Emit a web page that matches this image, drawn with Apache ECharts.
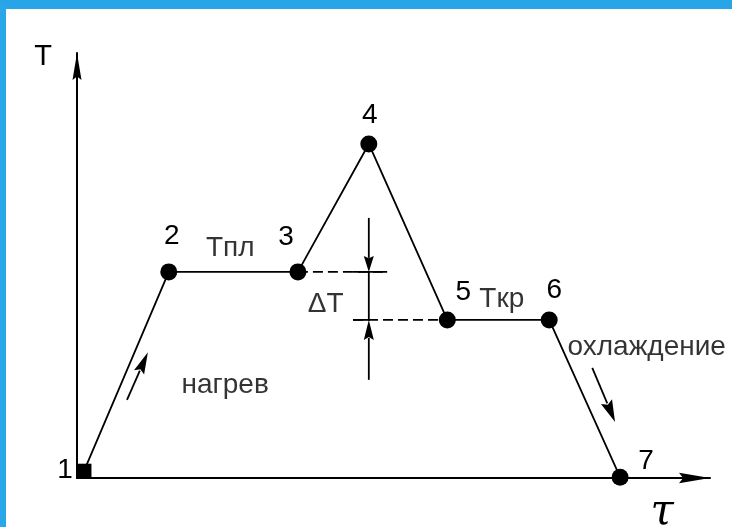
<!DOCTYPE html>
<html>
<head>
<meta charset="utf-8">
<script src="https://cdn.jsdelivr.net/npm/echarts@6/dist/echarts.min.js"></script>
<style>
  html, body { margin: 0; padding: 0; background: #ffffff; }
  #frame { position: absolute; left: 0; top: 0; width: 732px; height: 527px; box-sizing: border-box;
           border-top: 9px solid #27a5e7; border-left: 6px solid #2aa7e8; }
  #chart { position: absolute; left: 0; top: 0; width: 732px; height: 527px; }
</style>
</head>
<body>
<div id="frame"></div>
<div id="chart"></div>
<script>
// ---- data (arbitrary units: tau = time, T = temperature) ----
const pointNames = ['1', '2', '3', '4', '5', '6', '7'];
const tau = [1.1, 14.5, 34.9, 46.1, 58.5, 74.6, 85.8];
const temp = [1.6, 48.5, 48.5, 78.6, 37.2, 37.2, 0.2];

// text annotations
const noteTexts = ['Tпл', 'Tкр', '\u0394T', 'нагрев', 'охлаждение'];
const noteTau = [24.2, 67.1, 39.3, 23.4, 90.0];
const noteT = [54.1, 42.1, 40.9, 21.9, 30.8];

// ΔT dimension (between melting level and crystallisation level)
const dimTau = 46.1;
const dimTopT = 61.2;
const dimBottomT = 23.1;
const extTickStart = 43.6;
const extUpperEnd = 49.0;
const extLowerTickEnd = 46.3;

// direction arrows along heating / cooling branches
const heatArrow = [7.9, 18.4, 11.2, 29.6];
const coolArrow = [81.4, 25.9, 85.0, 13.2];

// ---- styles (not data) ----
const ink = '#000000';
const font = 'Liberation Sans, Arial, sans-serif';
const fs = 28;
const labelOffsets = [[-19, -1], [3, -36], [-12, -35], [1, -29], [16, -28], [5, -30], [26, -16]];

const chart = echarts.init(document.getElementById('chart'), null, { renderer: 'canvas' });

const mainData = tau.map((x, i) => ({
  value: [x, temp[i]],
  name: pointNames[i],
  symbol: i === 0 ? 'rect' : 'circle',
  symbolSize: i === 0 ? 15 : 17,
  label: { offset: labelOffsets[i] }
}));

const dashedSegs = [
  [tau[2], temp[2], extUpperEnd, temp[2]],
  [extTickStart, temp[4], tau[4], temp[4]]
];
const solidSegs = [
  [extTickStart, temp[2], extUpperEnd, temp[2]],
  [extTickStart, temp[4], extLowerTickEnd, temp[4]],
  [dimTau, temp[2], dimTau, temp[4]]
];
const arrowSegs = [
  [dimTau, dimTopT, dimTau, temp[2]],
  [dimTau, dimBottomT, dimTau, temp[4]],
  heatArrow,
  coolArrow
];
const arrowHeads = [[16, 10], [20, 10], [22, 11], [22, 12]];

function segRenderer(dashed) {
  return function (params, api) {
    const p1 = api.coord([api.value(0), api.value(1)]);
    const p2 = api.coord([api.value(2), api.value(3)]);
    return {
      type: 'line',
      shape: { x1: p1[0], y1: p1[1], x2: p2[0], y2: p2[1] },
      style: { stroke: ink, lineWidth: 1.8, lineDash: dashed ? [10, 5] : null }
    };
  };
}

function arrowRenderer(params, api) {
  const p1 = api.coord([api.value(0), api.value(1)]);
  const p2 = api.coord([api.value(2), api.value(3)]);
  const dx = p2[0] - p1[0], dy = p2[1] - p1[1];
  const len = Math.sqrt(dx * dx + dy * dy) || 1;
  const ux = dx / len, uy = dy / len;
  const h = arrowHeads[params.dataIndex];
  const hl = h[0], hw = h[1] / 2;
  const bx = p2[0] - ux * hl, by = p2[1] - uy * hl;
  const nx = bx + ux * hl * 0.15, ny = by + uy * hl * 0.15;
  return {
    type: 'group',
    children: [
      { type: 'line', shape: { x1: p1[0], y1: p1[1], x2: bx + ux * 2, y2: by + uy * 2 },
        style: { stroke: ink, lineWidth: 1.8 } },
      { type: 'polygon', shape: { points: [
          [p2[0], p2[1]],
          [bx - uy * hw, by + ux * hw],
          [nx, ny],
          [bx + uy * hw, by - ux * hw]
        ] }, style: { fill: ink } }
    ]
  };
}

const option = {
  backgroundColor: 'transparent',
  animation: false,
  grid: { left: 77, top: 53, right: 22, bottom: 49, containLabel: false, outerBoundsMode: 'none' },
  xAxis: {
    type: 'value', min: 0, max: 100,
    name: '\u03C4', nameLocation: 'end', nameGap: -48,
    nameTextStyle: { fontFamily: 'DejaVu Serif, serif', fontStyle: 'italic', fontSize: 42, color: ink,
                     align: 'center', verticalAlign: 'top', padding: [14, 0, 0, 0] },
    axisLine: { show: true, lineStyle: { color: ink, width: 2 },
                symbol: ['none', 'path://M5,0 L10,30 L5,26 L0,30 Z'], symbolSize: [13, 31], symbolOffset: [0, -15.5] },
    axisTick: { show: false }, axisLabel: { show: false }, splitLine: { show: false }
  },
  yAxis: {
    type: 'value', min: 0, max: 100,
    name: 'T', nameLocation: 'end', nameGap: -4,
    nameTextStyle: { fontFamily: font, fontSize: 29, color: ink,
                     align: 'right', verticalAlign: 'middle', padding: [0, 25, 0, 0] },
    axisLine: { show: true, lineStyle: { color: ink, width: 2 },
                symbol: ['none', 'path://M5,0 L10,30 L5,26 L0,30 Z'], symbolSize: [13, 27], symbolOffset: [0, -13.5] },
    axisTick: { show: false }, axisLabel: { show: false }, splitLine: { show: false }
  },
  series: [
    {
      type: 'custom', name: 'dashed', renderItem: segRenderer(true), data: dashedSegs, silent: true, z: 1
    },
    {
      type: 'custom', name: 'solid', renderItem: segRenderer(false), data: solidSegs, silent: true, z: 1
    },
    {
      type: 'custom', name: 'arrows', renderItem: arrowRenderer, data: arrowSegs, silent: true, z: 1
    },
    {
      type: 'line', name: 'T(τ)', data: mainData, z: 3,
      lineStyle: { color: ink, width: 1.8 },
      itemStyle: { color: ink },
      label: { show: true, position: 'inside', formatter: p => p.name,
               color: ink, fontFamily: font, fontSize: fs }
    },
    {
      type: 'scatter', name: 'notes', symbolSize: 0, z: 4,
      data: noteTexts.map((t, i) => ({ value: [noteTau[i], noteT[i]], name: t })),
      label: { show: true, position: 'inside', formatter: p => p.name,
               color: ink, fontFamily: font, fontSize: fs }
    }
  ]
};
chart.setOption(option);
</script>
</body>
</html>
